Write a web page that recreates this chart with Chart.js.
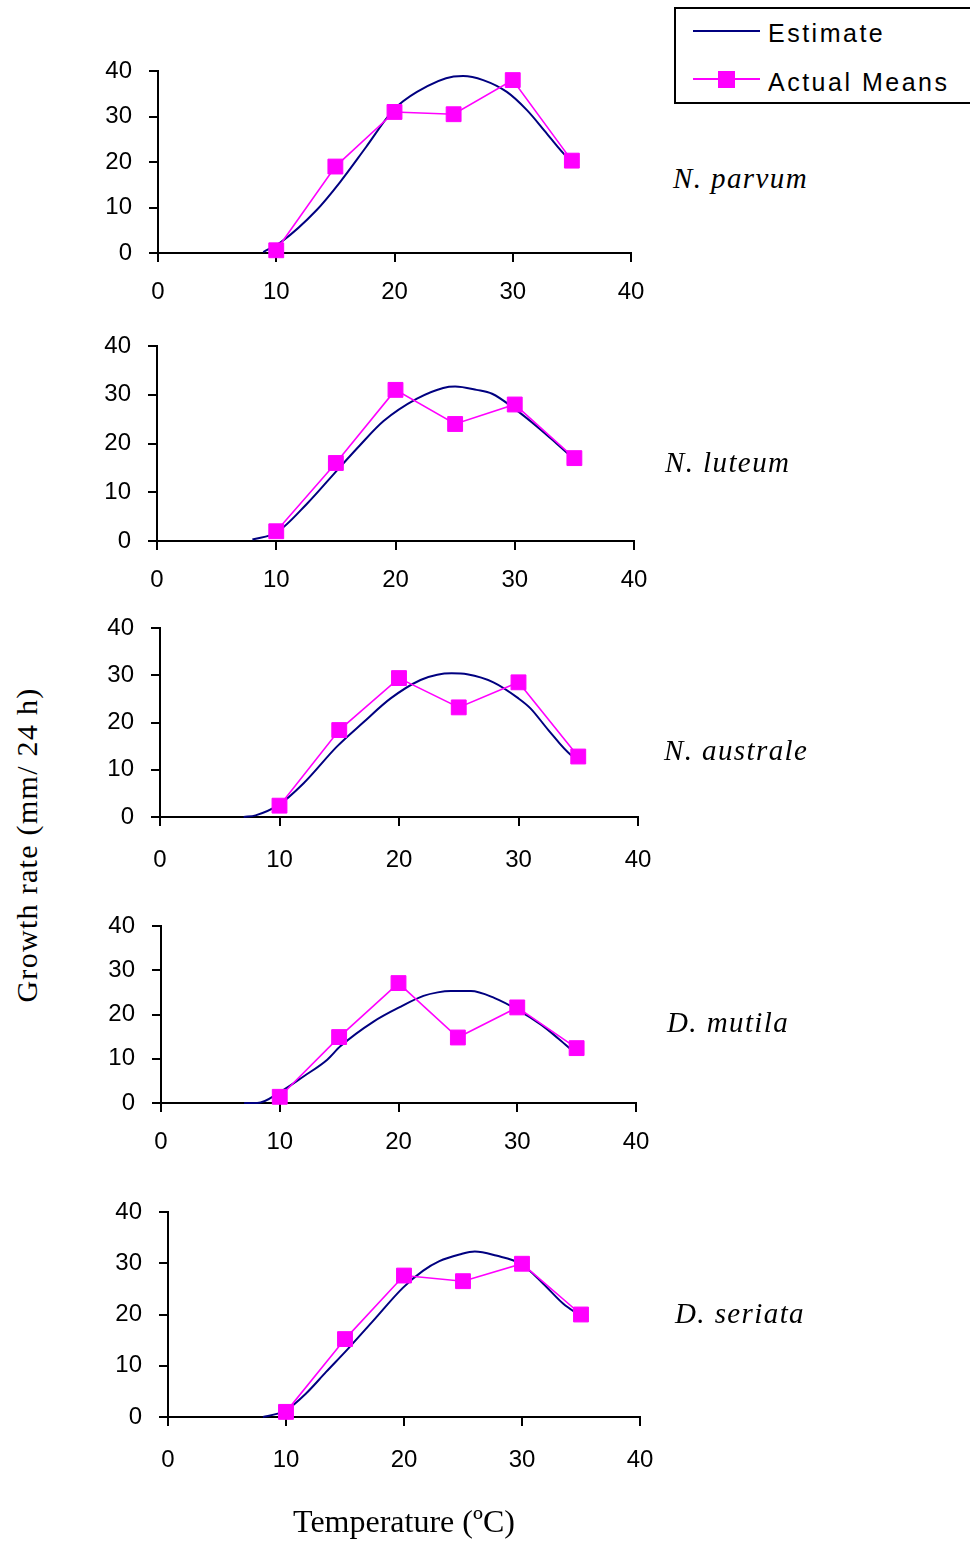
<!DOCTYPE html>
<html><head><meta charset="utf-8">
<script src="https://cdn.jsdelivr.net/npm/chart.js@4"></script>
<style>
html,body{margin:0;padding:0;background:#fff;}
body{width:970px;height:1541px;position:relative;overflow:hidden;font-family:"Liberation Sans",Arial,sans-serif;}
.panel{position:absolute;left:0;}
.sp{position:absolute;font:italic 29px "Liberation Serif","Times New Roman",serif;letter-spacing:1.4px;white-space:nowrap;transform:translateY(-50%);color:#000;}
#ytitle{position:absolute;left:27px;top:845px;font:30px "Liberation Serif","Times New Roman",serif;letter-spacing:1.3px;white-space:nowrap;transform:translate(-50%,-50%) rotate(-90deg);color:#000;}
#legbox{position:absolute;left:674px;top:7px;width:320px;height:97px;border:2px solid #000;box-sizing:border-box;}
.legline{position:absolute;left:693px;width:67px;height:2px;}
.legtxt{position:absolute;left:768px;font:25px "Liberation Sans",Arial,sans-serif;letter-spacing:2.5px;transform:translateY(-50%);white-space:nowrap;color:#000;}
#legmark{position:absolute;left:718px;top:71px;width:17px;height:17px;background:#FF00FF;}
</style>
</head><body>
<div id="ytitle">Growth rate (mm/ 24 h)</div>
<div id="legbox"></div>
<div class="legline" style="top:30px;background:#000080;"></div>
<div class="legtxt" style="top:33px;">Estimate</div>
<div class="legline" style="top:78px;background:#FF00FF;"></div>
<div id="legmark"></div>
<div class="legtxt" style="top:82px;">Actual Means</div>
<script>
// ---- data ----
const temperatures = [10, 15, 20, 25, 30, 35];
const speciesNames = ['N. parvum', 'N. luteum', 'N. australe', 'D. mutila', 'D. seriata'];
const xTickValues = [0, 10, 20, 30, 40];
const yTickValues = [0, 10, 20, 30, 40];

const meansParvum   = [0.6, 19.0, 31.0, 30.5, 38.0, 20.3];
const meansLuteum   = [2.0, 16.0, 31.0, 24.0, 28.0, 17.0];
const meansAustrale = [2.4, 18.4, 29.4, 23.2, 28.5, 12.8];
const meansMutila   = [1.4, 14.9, 27.1, 14.8, 21.6, 12.4];
const meansSeriata  = [1.0, 15.2, 27.6, 26.5, 29.9, 20.0];

const estParvumT   = [8.9, 10.4, 13.4, 15.4, 17.6, 19.9, 21.9, 25.0, 25.8, 27.5, 29.5, 31.2, 32.9, 34.6, 35.0];
const estParvumY   = [0.2, 2.4, 9.4, 15.6, 23.3, 31.4, 35.4, 38.8, 38.9, 38.0, 35.4, 31.4, 26.2, 21.1, 20.4];
const estLuteumT   = [8.0, 10.05, 12.6, 15.1, 17.0, 19.0, 21.8, 24.0, 25.0, 26.8, 28.1, 30.0, 32.0, 33.5, 34.6];
const estLuteumY   = [0.3, 1.8, 7.7, 14.5, 19.6, 24.6, 29.2, 31.4, 31.7, 31.0, 30.2, 27.1, 23.2, 20.0, 17.6];
const estAustraleT = [7.0, 8.0, 9.9, 12.0, 14.8, 17.0, 19.3, 21.8, 23.2, 24.4, 25.7, 27.9, 30.0, 31.0, 32.5, 34.4, 34.8];
const estAustraleY = [0.0, 0.35, 2.5, 7.1, 14.9, 20.0, 25.1, 29.0, 30.1, 30.4, 30.2, 28.5, 25.1, 23.0, 18.4, 13.1, 12.7];
const estMutilaT   = [7.0, 8.1, 10.1, 12.0, 14.0, 15.1, 17.9, 20.2, 22.1, 23.3, 24.4, 26.1, 28.1, 30.0, 32.0, 33.4, 34.4];
const estMutilaY   = [0.0, 0.0, 2.6, 6.0, 9.8, 12.8, 18.4, 21.8, 24.2, 25.0, 25.3, 25.3, 23.7, 21.1, 17.7, 14.7, 12.4];
const estSeriataT  = [8.05, 9.3, 10.0, 11.7, 13.4, 15.25, 17.4, 19.9, 21.6, 23.0, 24.7, 26.0, 27.8, 29.9, 31.8, 33.5, 34.9];
const estSeriataY  = [0.0, 0.65, 1.3, 4.6, 8.8, 13.3, 18.8, 25.2, 28.5, 30.4, 31.7, 32.3, 31.5, 29.9, 26.0, 22.1, 19.8];

// ---- assembly ----
const allMeans = [meansParvum, meansLuteum, meansAustrale, meansMutila, meansSeriata];
const allEstT = [estParvumT, estLuteumT, estAustraleT, estMutilaT, estSeriataT];
const allEstY = [estParvumY, estLuteumY, estAustraleY, estMutilaY, estSeriataY];

// plot-area geometry (page pixels) and label placement
const layout = [
  {l:158, r:631, t:71,   b:253,  xh:60,  xp:16, lx:673, ly:178},
  {l:157, r:634, t:346,  b:541,  xh:60,  xp:16, lx:665, ly:462},
  {l:160, r:638, t:628,  b:817,  xh:64,  xp:20, lx:664, ly:750},
  {l:161, r:636, t:926,  b:1103, xh:60,  xp:16, lx:667, ly:1022},
  {l:168, r:640, t:1212, b:1417, xh:130, xp:20, lx:675, ly:1313}
];
const MAG = '#FF00FF', NAVY = '#000080';
Chart.defaults.font.family = '"Liberation Sans", Arial, sans-serif';
Chart.defaults.color = '#000';

function makePanel(i) {
  const L = layout[i];
  const padTop = 40, padRight = 40;
  const w = L.r + padRight;
  const h = padTop + (L.b - L.t) + L.xh;
  const div = document.createElement('div');
  div.className = 'panel';
  div.style.top = (L.t - padTop) + 'px';
  div.style.width = w + 'px';
  div.style.height = h + 'px';
  const c = document.createElement('canvas');
  c.width = w; c.height = h;
  c.style.width = w + 'px'; c.style.height = h + 'px';
  div.appendChild(c);
  document.body.appendChild(div);

  const lab = document.createElement('div');
  lab.className = 'sp';
  lab.style.left = L.lx + 'px';
  lab.style.top = L.ly + 'px';
  lab.textContent = speciesNames[i];
  document.body.appendChild(lab);

  const axisCommon = {
    grid: {drawOnChartArea: false, drawTicks: true, tickLength: 9, color: '#000', lineWidth: 2},
    border: {display: true, color: '#000', width: 2},
  };
  new Chart(c, {
    type: 'line',
    data: {
      datasets: [
        {
          label: 'Actual Means',
          data: temperatures.map((t, k) => ({x: t, y: allMeans[i][k]})),
          borderColor: MAG, backgroundColor: MAG, borderWidth: 1.6,
          pointStyle: 'rect', pointRadius: 10.5, pointBorderWidth: 1,
          pointBackgroundColor: MAG, pointBorderColor: MAG,
          tension: 0, clip: false, order: 0
        },
        {
          label: 'Estimate',
          data: allEstT[i].map((t, k) => ({x: t, y: allEstY[i][k]})),
          borderColor: NAVY, borderWidth: 2, pointRadius: 0,
          cubicInterpolationMode: 'monotone', clip: false, order: 1
        }
      ]
    },
    options: {
      responsive: false, animation: false, events: [],
      layout: {padding: {left: 0, top: padTop, right: padRight, bottom: 0}},
      plugins: {legend: {display: false}, tooltip: {enabled: false}},
      scales: {
        x: Object.assign({}, axisCommon, {
          type: 'linear', min: 0, max: 40,
          afterBuildTicks: s => { s.ticks = xTickValues.map(v => ({value: v})); },
          afterFit: s => { s.height = L.xh; },
          ticks: {padding: L.xp, font: {size: 24}, maxRotation: 0, autoSkip: false, color: '#000'},
          title: i === 4 ? {display: true, text: 'Temperature (ºC)', color: '#000',
                   font: {family: '"Liberation Serif", "Times New Roman", serif', size: 32},
                   padding: {top: 0, bottom: 4}} : {display: false}
        }),
        y: Object.assign({}, axisCommon, {
          min: 0, max: 40,
          afterBuildTicks: s => { s.ticks = yTickValues.map(v => ({value: v})); },
          afterFit: s => { s.width = L.l; },
          ticks: {padding: 17, font: {size: 24}, autoSkip: false, color: '#000'}
        })
      }
    }
  });
}
for (let i = 0; i < 5; i++) makePanel(i);
</script>
</body></html>
